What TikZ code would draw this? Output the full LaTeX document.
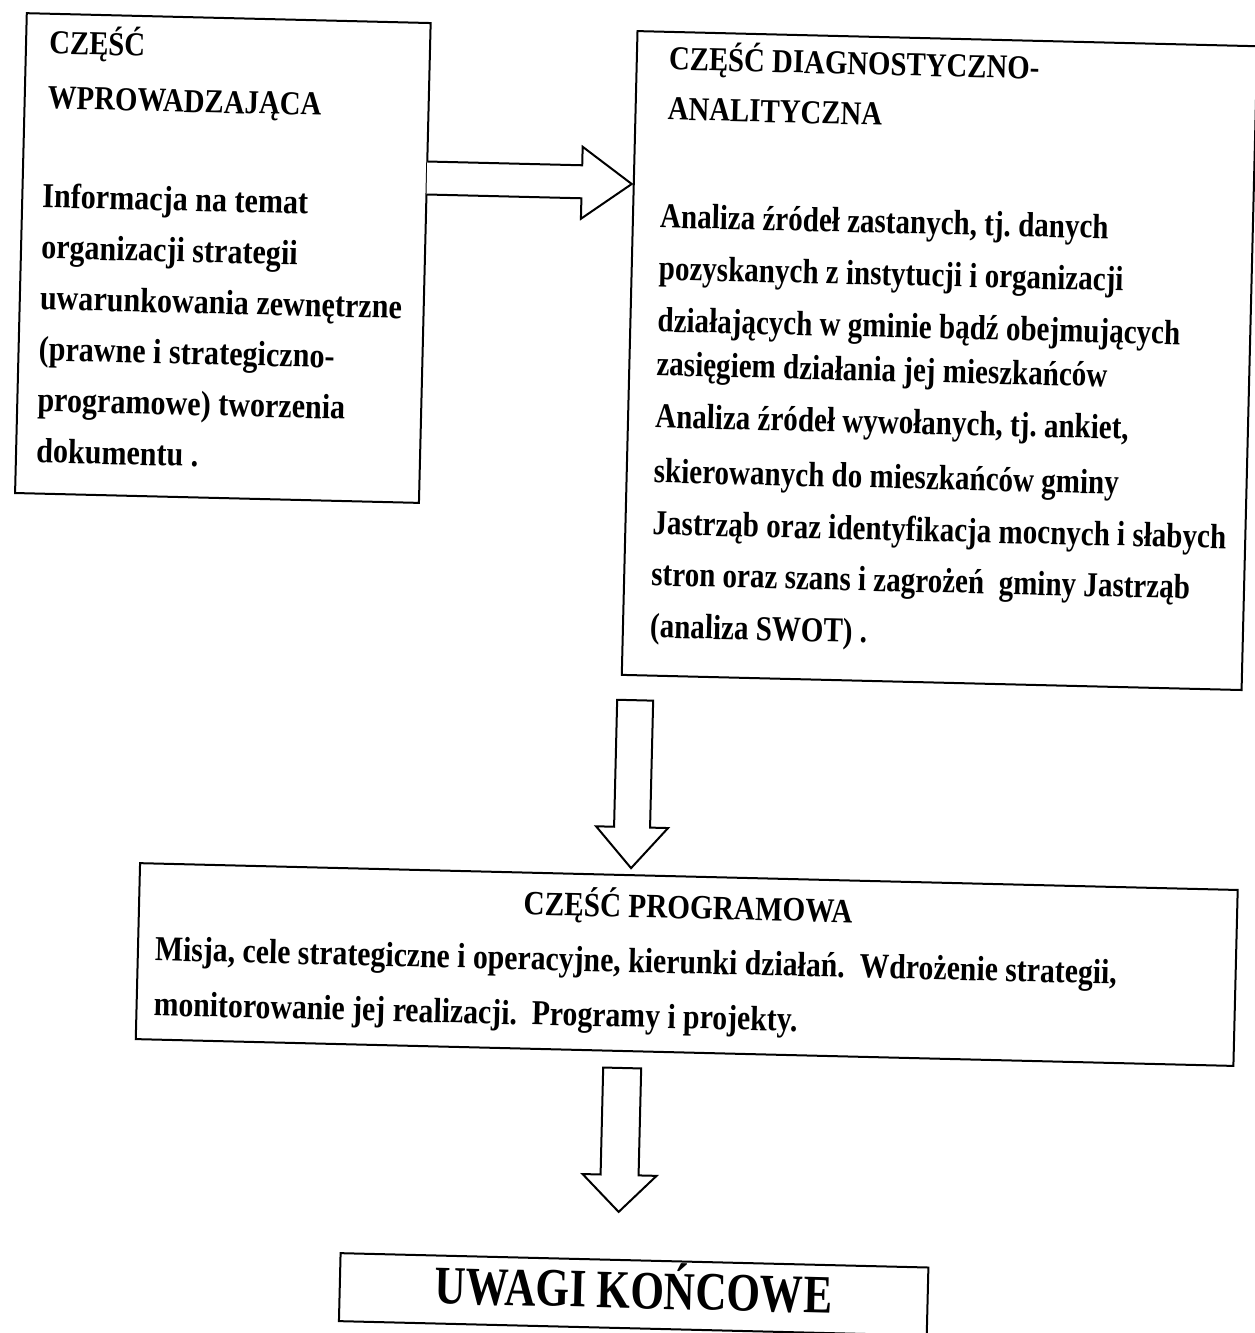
\documentclass[tikz,border=0pt]{standalone}
\usepackage{fontspec}
\newfontfamily\ff{Liberation Serif}[FakeStretch=0.86]
\newfontfamily\ffb{Liberation Serif}[FakeStretch=0.83]
\newfontfamily\ffc{Liberation Serif}[FakeStretch=0.85]
\newfontfamily\ffd{Liberation Serif}[FakeStretch=0.80]
\begin{document}
\frenchspacing
\begin{tikzpicture}[x=1pt,y=-1pt,
  box/.style={draw, line width=2pt, inner sep=0pt},
  blk/.style={draw, line width=2pt, line join=miter, fill=white},
  hdr/.style={anchor=base west, inner sep=0pt, font=\ff\bfseries\fontsize{33.5}{33.5}\selectfont},
  bodytxt/.style={anchor=base west, inner sep=0pt, font=\ff\bfseries\fontsize{35}{35}\selectfont},
  btxt/.style={anchor=base west, inner sep=0pt, font=\ffb\bfseries\fontsize{35}{35}\selectfont},
  ctxt/.style={anchor=base west, inner sep=0pt, font=\ffc\bfseries\fontsize{35}{35}\selectfont},
  chdr/.style={anchor=base, inner sep=0pt, font=\ff\bfseries\fontsize{34}{34}\selectfont},
  dtxt/.style={anchor=base, inner sep=0pt, font=\ffd\bfseries\fontsize{54}{54}\selectfont}]
\useasboundingbox[fill=white] (0,0) rectangle (1255,1333);
\begin{scope}[rotate around={-1.4:(627,666)}, every node/.append style={transform shape}]
% boxes
\node[box, minimum width=404, minimum height=480] (A) at (213,268) {};
\node[box, minimum width=620, minimum height=644] (B) at (932,353) {};
\node[box, minimum width=1098, minimum height=176] (C) at (694,963) {};
\node[box, minimum width=588, minimum height=68] (D) at (649,1294) {};
% box A text
\node[hdr] (a1) at (34,68) {CZĘŚĆ};
\node[hdr] (a2) at (34,123) {WPROWADZAJĄCA};
\node[bodytxt] (a3) at (31,222) {Informacja na temat};
\node[bodytxt] (a4) at (31,273) {organizacji strategii};
\node[bodytxt] (a5) at (31,324) {uwarunkowania zewnętrzne};
\node[bodytxt] (a6) at (31,375) {(prawne i strategiczno-};
\node[bodytxt] (a7) at (31,426) {programowe) tworzenia};
\node[bodytxt] (a8) at (31,477) {dokumentu .};
% box B text
\node[hdr] (b1) at (654,69) {CZĘŚĆ DIAGNOSTYCZNO-};
\node[hdr] (b2) at (654,119) {ANALITYCZNA};
\node[btxt] (b3) at (649,227) {Analiza źródeł zastanych, tj. danych};
\node[btxt] (b4) at (649,279) {pozyskanych z instytucji i organizacji};
\node[btxt] (b5) at (649,331) {działających w gminie bądź obejmujących};
\node[btxt] (b6) at (649,375) {zasięgiem działania jej mieszkańców};
\node[btxt] (b7) at (649,427) {Analiza źródeł wywołanych, tj. ankiet,};
\node[btxt] (b8) at (649,482) {skierowanych do mieszkańców gminy};
\node[btxt] (b9) at (649,534) {Jastrząb oraz identyfikacja mocnych i słabych};
\node[btxt] (b10) at (649,585) {stron oraz szans i zagrożeń\ \ gminy Jastrząb};
\node[btxt] (b11) at (649,637) {(analiza SWOT) .};
% box C text
\node[chdr] (c1) at (694,917) {CZĘŚĆ PROGRAMOWA};
\node[ctxt] (c2) at (162,972) {Misja, cele strategiczne i operacyjne, kierunki działań.\ \ Wdrożenie strategii,};
\node[ctxt] (c3) at (162,1027) {monitorowanie jej realizacji.\ \ Programy i projekty.};
% box D text
\node[dtxt] (d1) at (649,1308) {UWAGI KOŃCOWE};
% block arrows
\coordinate (r0) at (415,183);
\coordinate (r1) at (620,184);
\draw[blk] (415,166.5) -- (570,166.5) -- (570,148) -- (r1) -- (570,220) -- (570,199.5) -- (415,199.5);
\coordinate (v0) at (636,700);
\coordinate (v1) at (636,868);
\draw[blk] (618,700) -- (654,700) -- (654,827) -- (672,827) -- (v1) -- (600,827) -- (618,827) -- cycle;
\coordinate (w0) at (632,1068);
\coordinate (w1) at (632,1212);
\draw[blk] (613,1068) -- (651,1068) -- (651,1175) -- (669,1175) -- (w1) -- (595,1175) -- (613,1175) -- cycle;
\end{scope}
\end{tikzpicture}
\end{document}
